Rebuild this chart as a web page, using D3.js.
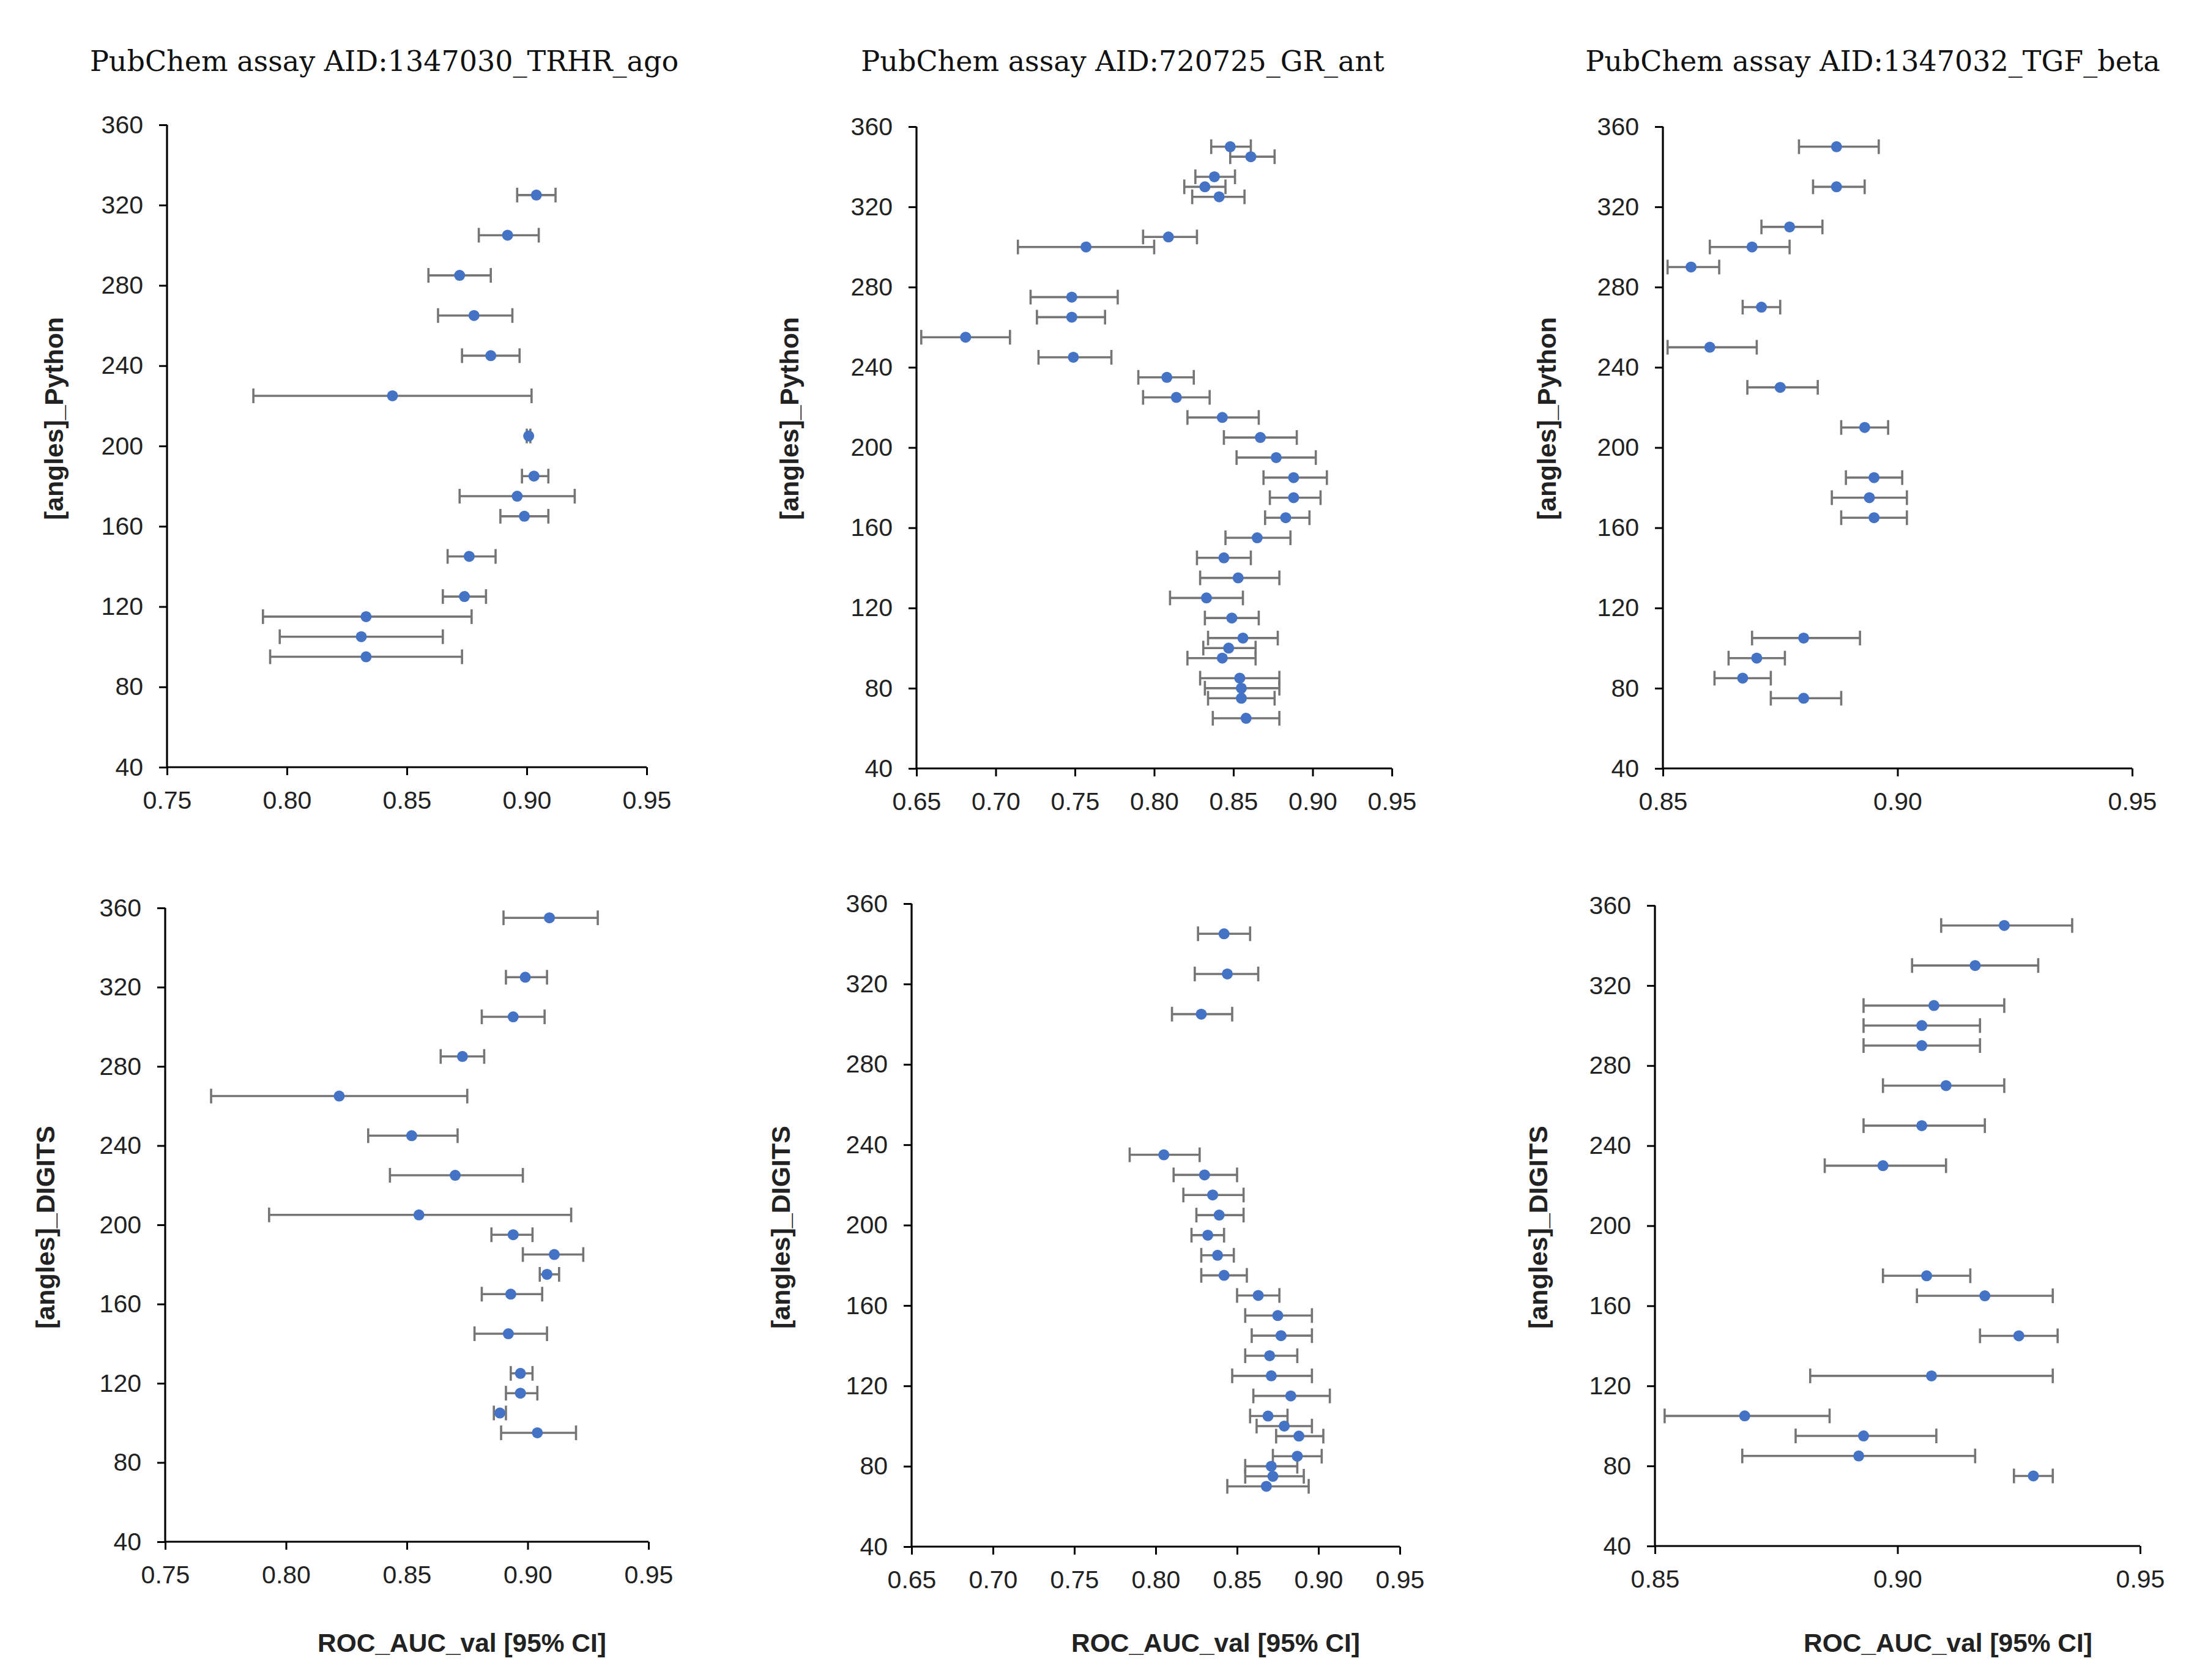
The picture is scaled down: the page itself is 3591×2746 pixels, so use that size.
<!DOCTYPE html>
<html>
<head>
<meta charset="utf-8">
<script src="https://cdn.jsdelivr.net/npm/d3@7/dist/d3.min.js"></script>
<style>
  html, body { margin: 0; padding: 0; background: #ffffff; }
  svg { display: block; }
</style>
</head>
<body>
<svg id="chart" width="3591" height="2746"></svg>
<script>
// ---------------- DATA ----------------
const panelTitles = [
  "PubChem assay AID:1347030_TRHR_ago",
  "PubChem assay AID:720725_GR_ant",
  "PubChem assay AID:1347032_TGF_beta"
];
const rowLabels = ["[angles]_Python", "[angles]_DIGITS"];
const xAxisLabel = "ROC_AUC_val [95% CI]";

const yTicks = [40, 80, 120, 160, 200, 240, 280, 320, 360];
const xTicksTRHR = [0.75, 0.80, 0.85, 0.90, 0.95];
const xTicksGR = [0.65, 0.70, 0.75, 0.80, 0.85, 0.90, 0.95];
const xTicksTGF = [0.85, 0.90, 0.95];

// TRHR_ago, Python
const trhrPyAngle = [325, 305, 285, 265, 245, 225, 205, 185, 175, 165, 145, 125, 115, 105, 95];
const trhrPyAuc   = [0.904, 0.892, 0.872, 0.878, 0.885, 0.844, 0.9008, 0.903, 0.896, 0.899, 0.876, 0.874, 0.833, 0.831, 0.833];
const trhrPyLo    = [0.896, 0.880, 0.859, 0.863, 0.873, 0.786, 0.9000, 0.898, 0.872, 0.889, 0.867, 0.865, 0.790, 0.797, 0.793];
const trhrPyHi    = [0.912, 0.905, 0.885, 0.894, 0.897, 0.902, 0.9015, 0.909, 0.920, 0.909, 0.887, 0.883, 0.877, 0.865, 0.873];

// GR_ant, Python
const grPyAngle = [350, 345, 335, 330, 325, 305, 300, 275, 265, 255, 245, 235, 225, 215, 205, 195, 185, 175, 165, 155, 145, 135, 125, 115, 105, 100, 95, 85, 80, 75, 65];
const grPyAuc   = [0.848, 0.861, 0.838, 0.832, 0.841, 0.809, 0.757, 0.748, 0.748, 0.681, 0.749, 0.808, 0.814, 0.843, 0.867, 0.877, 0.888, 0.888, 0.883, 0.865, 0.844, 0.853, 0.833, 0.849, 0.856, 0.847, 0.843, 0.854, 0.855, 0.855, 0.858];
const grPyLo    = [0.836, 0.848, 0.826, 0.819, 0.824, 0.793, 0.714, 0.722, 0.726, 0.653, 0.727, 0.790, 0.793, 0.821, 0.844, 0.852, 0.869, 0.873, 0.870, 0.845, 0.827, 0.829, 0.810, 0.832, 0.834, 0.831, 0.821, 0.829, 0.832, 0.834, 0.837];
const grPyHi    = [0.861, 0.876, 0.851, 0.845, 0.857, 0.827, 0.800, 0.777, 0.769, 0.709, 0.773, 0.825, 0.835, 0.866, 0.890, 0.902, 0.909, 0.905, 0.898, 0.886, 0.861, 0.879, 0.856, 0.866, 0.878, 0.864, 0.864, 0.879, 0.879, 0.876, 0.879];

// TGF_beta, Python
const tgfPyAngle = [350, 330, 310, 300, 290, 270, 250, 230, 210, 185, 175, 165, 105, 95, 85, 75];
const tgfPyAuc   = [0.887, 0.887, 0.877, 0.869, 0.856, 0.871, 0.860, 0.875, 0.893, 0.895, 0.894, 0.895, 0.880, 0.870, 0.867, 0.880];
const tgfPyLo    = [0.879, 0.882, 0.871, 0.860, 0.851, 0.867, 0.851, 0.868, 0.888, 0.889, 0.886, 0.888, 0.869, 0.864, 0.861, 0.873];
const tgfPyHi    = [0.896, 0.893, 0.884, 0.877, 0.862, 0.875, 0.870, 0.883, 0.898, 0.901, 0.902, 0.902, 0.892, 0.876, 0.873, 0.888];

// TRHR_ago, DIGITS
const trhrDgAngle = [355, 325, 305, 285, 265, 245, 225, 205, 195, 185, 175, 165, 145, 125, 115, 105, 95];
const trhrDgAuc   = [0.909, 0.899, 0.894, 0.873, 0.822, 0.852, 0.870, 0.855, 0.894, 0.911, 0.908, 0.893, 0.892, 0.897, 0.897, 0.8885, 0.904];
const trhrDgLo    = [0.890, 0.891, 0.881, 0.864, 0.769, 0.834, 0.843, 0.793, 0.885, 0.898, 0.905, 0.881, 0.878, 0.893, 0.891, 0.886, 0.889];
const trhrDgHi    = [0.929, 0.908, 0.907, 0.882, 0.875, 0.871, 0.898, 0.918, 0.902, 0.923, 0.913, 0.906, 0.908, 0.902, 0.904, 0.891, 0.920];

// GR_ant, DIGITS
const grDgAngle = [345, 325, 305, 235, 225, 215, 205, 195, 185, 175, 165, 155, 145, 135, 125, 115, 105, 100, 95, 85, 80, 75, 70];
const grDgAuc   = [0.842, 0.844, 0.828, 0.805, 0.830, 0.835, 0.839, 0.832, 0.838, 0.842, 0.863, 0.875, 0.877, 0.870, 0.871, 0.883, 0.869, 0.879, 0.888, 0.887, 0.871, 0.872, 0.868];
const grDgLo    = [0.826, 0.824, 0.810, 0.784, 0.811, 0.817, 0.825, 0.822, 0.828, 0.828, 0.850, 0.855, 0.859, 0.855, 0.847, 0.860, 0.858, 0.862, 0.874, 0.872, 0.855, 0.855, 0.844];
const grDgHi    = [0.858, 0.863, 0.847, 0.827, 0.850, 0.854, 0.854, 0.842, 0.848, 0.856, 0.876, 0.896, 0.896, 0.887, 0.896, 0.907, 0.881, 0.896, 0.903, 0.902, 0.887, 0.891, 0.894];

// TGF_beta, DIGITS
const tgfDgAngle = [350, 330, 310, 300, 290, 270, 250, 230, 175, 165, 145, 125, 105, 95, 85, 75];
const tgfDgAuc   = [0.922, 0.916, 0.9075, 0.905, 0.905, 0.910, 0.905, 0.897, 0.906, 0.918, 0.925, 0.907, 0.8685, 0.893, 0.892, 0.928];
const tgfDgLo    = [0.909, 0.903, 0.893, 0.893, 0.893, 0.897, 0.893, 0.885, 0.897, 0.904, 0.917, 0.882, 0.852, 0.879, 0.868, 0.924];
const tgfDgHi    = [0.936, 0.929, 0.922, 0.917, 0.917, 0.922, 0.918, 0.910, 0.915, 0.932, 0.933, 0.932, 0.886, 0.908, 0.916, 0.932];

// ---------------- LAYOUT ----------------
const panels = [
  { angle: trhrPyAngle, auc: trhrPyAuc, lo: trhrPyLo, hi: trhrPyHi, xTicks: xTicksTRHR, title: panelTitles[0], ylab: rowLabels[0],
    x0: 273, x1: 1057, y0: 204, y1: 1254, ylabX: 92, ylabY: 684, titleX: 628 },
  { angle: grPyAngle, auc: grPyAuc, lo: grPyLo, hi: grPyHi, xTicks: xTicksGR, title: panelTitles[1], ylab: rowLabels[0],
    x0: 1498, x1: 2275, y0: 207, y1: 1256, ylabX: 1294, ylabY: 684, titleX: 1835 },
  { angle: tgfPyAngle, auc: tgfPyAuc, lo: tgfPyLo, hi: tgfPyHi, xTicks: xTicksTGF, title: panelTitles[2], ylab: rowLabels[0],
    x0: 2718, x1: 3485, y0: 207, y1: 1256, ylabX: 2532, ylabY: 684, titleX: 3061 },
  { angle: trhrDgAngle, auc: trhrDgAuc, lo: trhrDgLo, hi: trhrDgHi, xTicks: xTicksTRHR, ylab: rowLabels[1], xlab: xAxisLabel,
    x0: 270, x1: 1060, y0: 1484, y1: 2520, ylabX: 78, ylabY: 2006, xlabX: 755 },
  { angle: grDgAngle, auc: grDgAuc, lo: grDgLo, hi: grDgHi, xTicks: xTicksGR, ylab: rowLabels[1], xlab: xAxisLabel,
    x0: 1490, x1: 2288, y0: 1477, y1: 2528, ylabX: 1280, ylabY: 2006, xlabX: 1987 },
  { angle: tgfDgAngle, auc: tgfDgAuc, lo: tgfDgLo, hi: tgfDgHi, xTicks: xTicksTGF, ylab: rowLabels[1], xlab: xAxisLabel,
    x0: 2705, x1: 3498, y0: 1480, y1: 2527, ylabX: 2518, ylabY: 2006, xlabX: 3184 }
];

const svg = d3.select("#chart");
svg.append("rect").attr("width", 3591).attr("height", 2746).attr("fill", "#ffffff");

const tickFont = "'Liberation Sans', Arial, sans-serif";
const labelFont = "'Liberation Sans', Arial, sans-serif";
const titleFont = "'DejaVu Serif', 'Liberation Serif', serif";
const textColor = "#222222";
const dotColor = "#4472C4";
const barColor = "#757575";

function fitFont(sel, targetWidth, baseSize) {
  sel.attr("font-size", baseSize);
  const w = sel.node().getComputedTextLength();
  if (w > 0) sel.attr("font-size", baseSize * targetWidth / w);
}

panels.forEach((p) => {
  const x = d3.scaleLinear().domain([p.xTicks[0], p.xTicks[p.xTicks.length - 1]]).range([p.x0, p.x1]);
  const y = d3.scaleLinear().domain([40, 360]).range([p.y1, p.y0]);

  const g = svg.append("g");

  // Axes
  const xAxis = d3.axisBottom(x).tickValues(p.xTicks).tickFormat(d3.format(".2f")).tickSizeOuter(0).tickSize(13).tickPadding(26);
  const yAxis = d3.axisLeft(y).tickValues(yTicks).tickFormat(d3.format("d")).tickSizeOuter(0).tickSize(13).tickPadding(26);

  const gx = g.append("g").attr("transform", `translate(0,${p.y1})`).call(xAxis);
  const gy = g.append("g").attr("transform", `translate(${p.x0},0)`).call(yAxis);

  [gx, gy].forEach(ax => {
    ax.select(".domain").attr("stroke", "#000").attr("stroke-width", 3.2);
    ax.selectAll(".tick line").attr("stroke", "#000").attr("stroke-width", 3);
    ax.selectAll(".tick text")
      .attr("font-family", tickFont)
      .attr("font-size", 41)
      .attr("fill", textColor);
  });
  gx.select(".domain").attr("d", `M${p.x0},0H${p.x1}`);
  gy.select(".domain").attr("d", `M0,${p.y1}V${p.y0}`);

  // Error bars
  const idx = d3.range(p.angle.length);
  const capH = 12;
  const eb = g.append("g").attr("stroke", barColor).attr("stroke-width", 3.6).attr("fill", "none");
  eb.selectAll("line.bar").data(idx).join("line")
    .attr("class", "bar")
    .attr("x1", i => x(p.lo[i])).attr("x2", i => x(p.hi[i]))
    .attr("y1", i => y(p.angle[i])).attr("y2", i => y(p.angle[i]));
  eb.selectAll("line.capl").data(idx).join("line")
    .attr("class", "capl")
    .attr("x1", i => x(p.lo[i])).attr("x2", i => x(p.lo[i]))
    .attr("y1", i => y(p.angle[i]) - capH).attr("y2", i => y(p.angle[i]) + capH);
  eb.selectAll("line.caph").data(idx).join("line")
    .attr("class", "caph")
    .attr("x1", i => x(p.hi[i])).attr("x2", i => x(p.hi[i]))
    .attr("y1", i => y(p.angle[i]) - capH).attr("y2", i => y(p.angle[i]) + capH);

  // Points
  g.append("g").selectAll("circle").data(idx).join("circle")
    .attr("cx", i => x(p.auc[i]))
    .attr("cy", i => y(p.angle[i]))
    .attr("r", 9)
    .attr("fill", dotColor);

  // Y label
  const yl = g.append("text")
    .attr("transform", `translate(${p.ylabX},${p.ylabY}) rotate(-90)`)
    .attr("text-anchor", "middle")
    .attr("dominant-baseline", "middle")
    .attr("font-family", labelFont)
    .attr("font-weight", "bold")
    .attr("fill", textColor)
    .text(p.ylab);
  fitFont(yl, 332, 36);

  // Title
  if (p.title) {
    g.append("text")
      .attr("x", p.titleX)
      .attr("y", 104)
      .attr("text-anchor", "middle")
      .attr("dominant-baseline", "middle")
      .attr("font-family", titleFont)
      .attr("fill", "#111")
      .attr("font-size", 46)
      .text(p.title);
  }

  // X label
  if (p.xlab) {
    const xl = g.append("text")
      .attr("x", p.xlabX)
      .attr("y", 2689)
      .attr("text-anchor", "middle")
      .attr("dominant-baseline", "middle")
      .attr("font-family", labelFont)
      .attr("font-weight", "bold")
      .attr("fill", textColor)
      .text(p.xlab);
    fitFont(xl, 472, 36);
  }
});
</script>
</body>
</html>
